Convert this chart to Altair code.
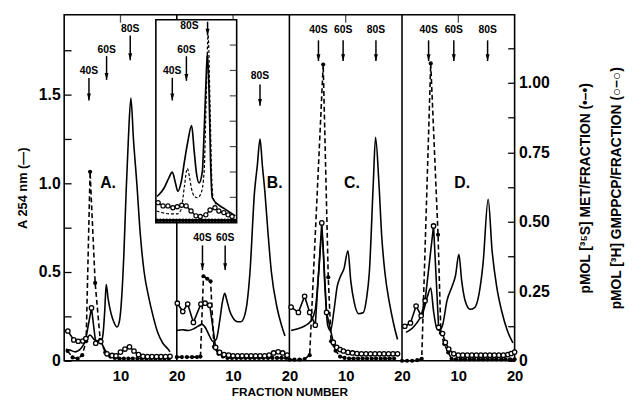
import altair as alt
import pandas as pd

FONT = "Liberation Sans"

# ---------------- data ----------------
# A254 (solid line), fraction number within each panel
A_SOLID_F = [0.3, 1.0, 2.0, 3.0, 3.8, 4.6, 5.3, 6.0, 6.5, 6.9, 7.2, 7.47, 7.8, 8.3, 8.8, 9.4, 9.8, 10.2, 10.6, 11.0, 11.4, 11.85, 12.3, 12.9, 13.5, 14.2, 15.0, 15.8, 16.6, 17.5, 18.4, 18.8]
A_SOLID_V = [0.065, 0.06, 0.05, 0.07, 0.11, 0.145, 0.12, 0.11, 0.10, 0.15, 0.28, 0.43, 0.35, 0.27, 0.22, 0.19, 0.22, 0.35, 0.6, 0.95, 1.25, 1.48, 1.25, 1.0, 0.72, 0.5, 0.36, 0.25, 0.16, 0.1, 0.067, 0.05]
B_SOLID_F = [0.0, 1.0, 2.0, 3.0, 3.8, 4.5, 5.2, 5.8, 6.4, 7.0, 7.6, 8.1, 8.5, 8.9, 9.4, 10.0, 10.8, 11.4, 12.0, 12.5, 13.0, 13.8, 14.3, 14.78, 15.2, 15.65, 16.2, 16.8, 17.8, 18.6, 19.2]
B_SOLID_V = [0.17, 0.175, 0.17, 0.18, 0.195, 0.205, 0.18, 0.14, 0.11, 0.12, 0.22, 0.33, 0.38, 0.34, 0.28, 0.24, 0.22, 0.22, 0.25, 0.33, 0.5, 0.95, 1.1, 1.25, 1.1, 0.95, 0.72, 0.5, 0.3, 0.2, 0.14]
C_SOLID_F = [0.3, 1.5, 2.7, 3.8, 4.6, 5.2, 5.8, 6.3, 6.8, 7.3, 7.9, 8.5, 9.0, 9.7, 10.4, 10.9, 11.5, 12.3, 13.1, 13.7, 14.2, 14.9, 15.3, 15.9, 16.4, 16.95, 17.8, 18.5, 19.2]
C_SOLID_V = [0.17, 0.18, 0.196, 0.224, 0.29, 0.5, 0.72, 0.42, 0.2, 0.17, 0.28, 0.42, 0.47, 0.52, 0.62, 0.45, 0.33, 0.265, 0.27, 0.35, 0.5, 1.0, 1.26, 1.0, 0.7, 0.5, 0.32, 0.21, 0.12]
D_SOLID_F = [0.7, 1.5, 2.2, 3.0, 3.7, 4.5, 5.1, 5.6, 6.1, 6.6, 7.2, 8.0, 8.9, 9.5, 10.1, 10.6, 11.2, 12.1, 12.9, 13.7, 14.4, 15.3, 16.0, 16.8, 17.7, 18.7, 19.7]
D_SOLID_V = [0.16, 0.175, 0.196, 0.23, 0.27, 0.36, 0.41, 0.28, 0.19, 0.17, 0.2, 0.34, 0.42, 0.48, 0.6, 0.45, 0.34, 0.29, 0.3, 0.38, 0.55, 0.91, 0.62, 0.42, 0.28, 0.17, 0.10]

# [3H]GMPPCP pmol/fraction (open circles)
A_OPEN_F = [0.65, 1.7, 2.5, 3.3, 3.85, 4.85, 5.6, 6.5, 7.6, 8.5, 9.2, 10.0, 10.8, 11.6, 12.4, 13.2, 14.0, 14.8, 15.6, 16.4, 17.2, 18.0, 18.8]
A_OPEN_V = [0.107, 0.075, 0.07, 0.071, 0.08, 0.19, 0.063, 0.069, 0.025, 0.019, 0.018, 0.031, 0.042, 0.05, 0.035, 0.022, 0.016, 0.015, 0.015, 0.015, 0.015, 0.015, 0.016]
B_OPEN_F = [0.1, 1.06, 1.94, 2.95, 4.28, 5.03, 5.85, 6.9, 7.6, 8.4, 9.2, 10.0, 10.8, 11.6, 12.4, 13.2, 14.0, 14.8, 15.6, 16.4, 17.2, 18.0, 18.8, 19.6]
B_OPEN_V = [0.207, 0.177, 0.204, 0.138, 0.204, 0.207, 0.2, 0.048, 0.03, 0.022, 0.02, 0.018, 0.018, 0.018, 0.018, 0.018, 0.018, 0.018, 0.018, 0.02, 0.028, 0.032, 0.028, 0.02]
C_OPEN_F = [0.3, 1.6, 2.7, 3.6, 4.6, 5.75, 6.6, 7.8, 8.4, 9.0, 9.6, 10.4, 11.2, 12.0, 12.8, 13.6, 14.4, 15.2, 16.0, 16.8, 17.6, 18.4, 19.2]
C_OPEN_V = [0.193, 0.174, 0.232, 0.174, 0.128, 0.496, 0.174, 0.066, 0.048, 0.04, 0.035, 0.03, 0.028, 0.026, 0.025, 0.025, 0.025, 0.025, 0.025, 0.025, 0.025, 0.025, 0.025]
D_OPEN_F = [0.5, 1.5, 2.5, 3.4, 4.1, 5.6, 6.5, 7.2, 7.7, 8.3, 9.2, 10.0, 10.8, 11.6, 12.4, 13.2, 14.0, 14.8, 15.6, 16.4, 17.2, 18.0, 18.8, 19.4, 20.0]
D_OPEN_V = [0.124, 0.136, 0.197, 0.162, 0.216, 0.485, 0.12, 0.098, 0.066, 0.042, 0.025, 0.02, 0.02, 0.02, 0.02, 0.02, 0.02, 0.02, 0.02, 0.02, 0.02, 0.02, 0.022, 0.026, 0.031]

# [35S]Met pmol/fraction (closed circles, dashed)
A_MET_F = [0.6, 1.5, 2.4, 3.2, 3.9, 4.6, 5.5, 6.4, 7.3, 8.2, 9.0, 9.8, 10.6, 11.4, 12.2, 13.0, 13.8, 14.6, 15.4, 16.2, 17.0, 17.8, 18.6]
A_MET_V = [0.035, 0.012, 0.008, 0.02, 0.07, 0.68, 0.28, 0.075, 0.03, 0.015, 0.01, 0.008, 0.008, 0.008, 0.008, 0.008, 0.008, 0.008, 0.008, 0.008, 0.008, 0.008, 0.008]
B_MET_F = [0.0, 0.9, 1.8, 2.7, 3.6, 4.2, 4.74, 5.4, 6.0, 6.6, 7.4, 8.2, 9.0, 9.8, 10.6, 11.4, 12.2, 13.0, 13.8, 14.6, 15.4, 16.2, 17.0, 17.8, 18.6, 19.4]
B_MET_V = [0.013, 0.013, 0.013, 0.013, 0.013, 0.015, 0.304, 0.295, 0.286, 0.05, 0.025, 0.015, 0.01, 0.01, 0.01, 0.01, 0.01, 0.01, 0.01, 0.01, 0.01, 0.01, 0.01, 0.01, 0.01, 0.01]
C_MET_F = [0.0, 0.9, 1.8, 2.7, 3.6, 6.0, 6.9, 7.4, 8.2, 9.0, 9.8, 10.6, 11.4, 12.2, 13.0, 13.8, 14.6, 15.4, 16.2, 17.0, 17.8, 18.6]
C_MET_V = [0.004, 0.004, 0.004, 0.006, 0.02, 1.066, 0.3, 0.07, 0.036, 0.015, 0.01, 0.008, 0.008, 0.008, 0.008, 0.008, 0.008, 0.008, 0.008, 0.008, 0.008, 0.008]
D_MET_F = [0.0, 0.9, 1.8, 2.7, 3.5, 5.1, 6.4, 6.9, 7.5, 8.2, 8.8, 9.6, 10.4, 11.2, 12.0, 12.8, 13.6, 14.4, 15.2, 16.0, 16.8, 17.6, 18.4, 19.2, 20.0]
D_MET_V = [0.0, 0.0, 0.0, 0.002, 0.007, 1.07, 0.453, 0.1, 0.06, 0.03, 0.007, 0.005, 0.005, 0.005, 0.005, 0.005, 0.005, 0.005, 0.005, 0.005, 0.005, 0.005, 0.005, 0.005, 0.005]

# sedimentation markers (panel position = 20*panel + fraction), in A254 units
ARROW_LABELS = ["40S", "60S", "80S", "40S", "60S", "80S", "40S", "60S", "80S", "40S", "60S", "80S"]
ARROW_POS = [4.4, 7.53, 11.73, 24.56, 28.59, 34.78, 45.16, 49.54, 55.37, 64.72, 69.2, 75.2]
ARROW_LABEL_Y = [1.633, 1.75, 1.867, 0.689, 0.689, 1.607, 1.863, 1.863, 1.863, 1.863, 1.863, 1.863]
ARROW_TOP = [1.594, 1.717, 1.833, 0.65, 0.65, 1.557, 1.806, 1.806, 1.806, 1.806, 1.806, 1.806]
ARROW_TIP = [1.467, 1.583, 1.694, 0.511, 0.511, 1.437, 1.689, 1.689, 1.689, 1.689, 1.689, 1.689]

LETTERS = ["A.", "B.", "C.", "D."]
LETTER_POS = [7.8, 37.4, 51.1, 70.7]
LETTER_Y = [1.0, 1.0, 1.0, 1.0]

BOUNDARIES = [20, 40, 60]
TOP_TICKS = [10, 30, 50, 70]
X_TICKS = [10, 20, 30, 40, 50, 60, 70, 80]
YA_TICKS = [0, 0.25, 0.5, 0.75, 1.0, 1.25, 1.5, 1.75]
YP_TICKS = [0, 0.125, 0.25, 0.375, 0.5, 0.625, 0.75, 0.875, 1.0, 1.125]

# inset (own, unlabelled scales: fraction 0-20, relative absorbance 0-1)
IN_SOLID_F = [0.3, 0.8, 2.0, 3.2, 4.07, 4.8, 5.44, 6.3, 7.07, 7.9, 8.85, 9.5, 10.0, 10.7, 11.5, 11.95, 12.4, 12.76, 13.17, 13.54, 13.98, 15.6, 17.24, 19.68]
IN_SOLID_V = [0.13, 0.139, 0.17, 0.22, 0.249, 0.2, 0.155, 0.204, 0.301, 0.398, 0.479, 0.35, 0.252, 0.196, 0.252, 0.447, 0.689, 0.835, 0.64, 0.301, 0.123, 0.087, 0.066, 0.034]
IN_DASH_F = [0.17, 1.7, 3.4, 5.4, 6.3, 7.07, 7.8, 8.3, 8.8, 9.5, 10.3, 11.2, 11.95, 12.44, 12.93, 13.4, 13.78, 14.1, 15.0]
IN_DASH_V = [0.058, 0.049, 0.044, 0.044, 0.068, 0.18, 0.268, 0.228, 0.17, 0.131, 0.123, 0.146, 0.252, 0.592, 0.924, 0.592, 0.252, 0.131, 0.09]
IN_OPEN_F = [0.56, 1.78, 3.0, 4.22, 5.3, 6.41, 7.49, 8.7, 9.93, 10.98, 12.37, 13.41, 14.63, 15.6, 16.83, 17.88, 18.85]
IN_OPEN_V = [0.099, 0.083, 0.083, 0.074, 0.079, 0.086, 0.083, 0.058, 0.034, 0.031, 0.039, 0.063, 0.074, 0.058, 0.05, 0.039, 0.031]
IN_MET_F = [0.3, 1.1, 1.9, 2.7, 3.5, 4.3, 5.1, 5.9, 6.7, 7.5, 8.3, 9.1, 9.9, 10.7, 11.5, 12.3, 13.1, 13.9, 14.7, 15.5, 16.3, 17.1, 17.9, 18.7, 19.5]
IN_MET_V = [0.012, 0.012, 0.012, 0.012, 0.012, 0.012, 0.012, 0.012, 0.012, 0.012, 0.012, 0.012, 0.012, 0.012, 0.012, 0.012, 0.012, 0.012, 0.012, 0.012, 0.012, 0.012, 0.012, 0.012, 0.012]
IN_ARROW_LABELS = ["40S", "60S", "80S"]
IN_LABEL_X = [4.07, 7.56, 8.29]
IN_ARROW_X = [4.07, 7.56, 12.8]
IN_LABEL_Y = [0.746, 0.851, 0.968]
IN_ARROW_TOP = [0.714, 0.82, 0.99]
IN_ARROW_TIP = [0.602, 0.699, 0.922]
IN_TICKS = [0.125, 0.25, 0.375, 0.5, 0.625, 0.75, 0.875]
IN_EXTENT_X = [0, 20]
IN_EXTENT_Y = [0, 1]


def series(panel, fs, vs):
    return pd.DataFrame({"panel": panel, "pos": [20 * panel + f for f in fs], "val": vs})


solid = pd.concat([series(0, A_SOLID_F, A_SOLID_V), series(1, B_SOLID_F, B_SOLID_V),
                   series(2, C_SOLID_F, C_SOLID_V), series(3, D_SOLID_F, D_SOLID_V)])
gmp = pd.concat([series(0, A_OPEN_F, A_OPEN_V), series(1, B_OPEN_F, B_OPEN_V),
                 series(2, C_OPEN_F, C_OPEN_V), series(3, D_OPEN_F, D_OPEN_V)])
met = pd.concat([series(0, A_MET_F, A_MET_V), series(1, B_MET_F, B_MET_V),
                 series(2, C_MET_F, C_MET_V), series(3, D_MET_F, D_MET_V)])
arrows = pd.DataFrame({"pos": ARROW_POS, "label": ARROW_LABELS, "ly": ARROW_LABEL_Y,
                       "top": ARROW_TOP, "tip": ARROW_TIP})
letters = pd.DataFrame({"pos": LETTER_POS, "val": LETTER_Y, "label": LETTERS})
bounds = pd.DataFrame({"pos": BOUNDARIES})
topticks = pd.DataFrame({"pos": TOP_TICKS})

in_solid = pd.DataFrame({"f": IN_SOLID_F, "v": IN_SOLID_V})
in_dash = pd.DataFrame({"f": IN_DASH_F, "v": IN_DASH_V})
in_open = pd.DataFrame({"f": IN_OPEN_F, "v": IN_OPEN_V})
in_met = pd.DataFrame({"f": IN_MET_F, "v": IN_MET_V})
in_arrows = pd.DataFrame({"lx": IN_LABEL_X, "ax": IN_ARROW_X, "label": IN_ARROW_LABELS,
                          "ly": IN_LABEL_Y, "top": IN_ARROW_TOP, "tip": IN_ARROW_TIP})
in_frame = pd.DataFrame({"x0": [IN_EXTENT_X[0]], "x1": [IN_EXTENT_X[1]],
                         "y0": [IN_EXTENT_Y[0]], "y1": [IN_EXTENT_Y[1]]})
in_ticks = pd.DataFrame({"v": IN_TICKS})

# ---------------- scales / axes ----------------
xs = alt.Scale(domain=[0, 80], nice=False, zero=False)
yA = alt.Scale(domain=[0, 1.95], nice=False, zero=False)
yP = alt.Scale(domain=[0, 1.245], nice=False, zero=False)
ixs = alt.Scale(domain=[0, 20], range=[93, 175], nice=False, zero=False)
iys = alt.Scale(domain=[0, 1], range=[211, 5], nice=False, zero=False)

x_axis = alt.Axis(values=X_TICKS, labelExpr="datum.value % 20 == 0 ? '20' : '10'",
                  ticks=False, domain=False, grid=False, labelOverlap=False, labelFlush=False,
                  labelFont=FONT, labelFontSize=15, labelFontWeight="bold", labelPadding=8,
                  titleFont=FONT, titleFontSize=12, titleFontWeight="bold", titlePadding=3)
yA_axis = alt.Axis(values=YA_TICKS,
                   labelExpr="datum.value == 0 ? '0' : ((datum.value * 2) % 1 == 0 ? format(datum.value, '.1f') : '')",
                   offset=-7, tickSize=7, tickWidth=1.3, domain=False, grid=False, labelOverlap=False,
                   labelFlush=False,
                   labelFont=FONT, labelFontSize=16, labelFontWeight="bold", labelPadding=4,
                   titleFont=FONT, titleFontSize=13, titleFontWeight="bold", titlePadding=9)
yP_axis = alt.Axis(orient="right", values=YP_TICKS,
                   labelExpr="datum.value == 0 ? '0' : ((datum.value * 4) % 1 == 0 ? format(datum.value, '.2f') : '')",
                   offset=-7, tickSize=7, tickWidth=1.3, domain=False, grid=False, labelOverlap=False,
                   labelFlush=False,
                   labelFont=FONT, labelFontSize=16, labelFontWeight="bold", labelPadding=4,
                   titleFont=FONT, titleFontSize=14, titleFontWeight="bold", titlePadding=13,
                   titleAngle=270, titleLineHeight=31)

X_TITLE = "FRACTION NUMBER"
YA_TITLE = "A 254 nm (—)"
YP_TITLE = ["pMOL [³⁵S] MET/FRACTION (•–•)", "pMOL [³H] GMPPCP/FRACTION (○–○)"]

# every layer has its own (identical) scale; only designated layers draw axes
XM = alt.X("pos:Q", scale=xs, axis=None)
XM_AX = alt.X("pos:Q", scale=xs, axis=x_axis, title=X_TITLE)


def YA_(field):
    return alt.Y(f"{field}:Q", scale=yA, axis=None)


def YP_(field):
    return alt.Y(f"{field}:Q", scale=yP, axis=None)


def IX(field):
    return alt.X(f"{field}:Q", scale=ixs, axis=None)


def IY(field):
    return alt.Y(f"{field}:Q", scale=iys, axis=None)


ARROW_HEAD = "M-1,-3.5L1,-3.5L0,0Z"
LW = 1.6

# ---------------- A254 marks ----------------
solid_line = alt.Chart(solid).mark_line(color="black", strokeWidth=LW, interpolate="monotone").encode(
    x=XM_AX, y=alt.Y("val:Q", scale=yA, axis=yA_axis, title=YA_TITLE), detail="panel:N")
bound_rules = alt.Chart(bounds).mark_rule(color="black", strokeWidth=1.6).encode(
    x=XM, y=alt.YDatum(0, scale=yA, axis=None), y2=alt.Y2Datum(1.95))
top_tick = alt.Chart(topticks).mark_tick(color="black", orient="vertical", size=8, thickness=1.3,
                                         yOffset=4).encode(x=XM, y=alt.YDatum(1.95, scale=yA, axis=None))
arrow_shaft = alt.Chart(arrows).mark_rule(color="black", strokeWidth=1.5).encode(
    x=XM, y=YA_("top"), y2="tip:Q")
arrow_head = alt.Chart(arrows).mark_point(shape=ARROW_HEAD, filled=True, size=16, color="black",
                                          opacity=1).encode(x=XM, y=YA_("tip"))
arrow_text = alt.Chart(arrows).mark_text(font=FONT, fontSize=10.5, fontWeight="bold", color="black",
                                         align="center", baseline="middle").encode(
    x=XM, y=YA_("ly"), text="label:N")
letter_text = alt.Chart(letters).mark_text(font=FONT, fontSize=16, fontWeight="bold", color="black",
                                           align="center", baseline="middle").encode(
    x=XM, y=YA_("val"), text="label:N")

# ---------------- pmol marks ----------------
met_line = alt.Chart(met).mark_line(color="black", strokeWidth=LW, strokeDash=[5, 3]).encode(
    x=XM, y=alt.Y("val:Q", scale=yP, axis=yP_axis, title=YP_TITLE), detail="panel:N")
gmp_line = alt.Chart(gmp).mark_line(color="black", strokeWidth=LW).encode(x=XM, y=YP_("val"), detail="panel:N")
met_pts = alt.Chart(met).mark_circle(color="black", size=18, opacity=1).encode(x=XM, y=YP_("val"))
gmp_pts = alt.Chart(gmp).mark_circle(fill="white", stroke="black", strokeWidth=1.3, size=20,
                                     opacity=1).encode(x=XM, y=YP_("val"))

# ---------------- inset marks ----------------
in_box = alt.Chart(in_frame).mark_rect(fill="white", stroke="black", strokeWidth=1.6).encode(
    x=IX("x0"), x2="x1:Q", y=IY("y0"), y2="y1:Q")
in_tick = alt.Chart(in_ticks).mark_tick(color="black", orient="horizontal", size=7, thickness=1.2,
                                        xOffset=-3.5).encode(x=alt.XDatum(20, scale=ixs, axis=None), y=IY("v"))
in_solid_line = alt.Chart(in_solid).mark_line(color="black", strokeWidth=1.7, interpolate="monotone").encode(
    x=IX("f"), y=IY("v"))
in_dash_line = alt.Chart(in_dash).mark_line(color="black", strokeWidth=1.2, strokeDash=[3, 2],
                                            interpolate="monotone").encode(x=IX("f"), y=IY("v"))
in_open_line = alt.Chart(in_open).mark_line(color="black", strokeWidth=1.3).encode(x=IX("f"), y=IY("v"))
in_met_line = alt.Chart(in_met).mark_line(color="black", strokeWidth=2.2).encode(x=IX("f"), y=IY("v"))
in_met_pts = alt.Chart(in_met).mark_circle(color="black", size=14, opacity=1).encode(x=IX("f"), y=IY("v"))
in_open_pts = alt.Chart(in_open).mark_circle(fill="white", stroke="black", strokeWidth=1.2, size=18,
                                             opacity=1).encode(x=IX("f"), y=IY("v"))
in_shaft = alt.Chart(in_arrows).mark_rule(color="black", strokeWidth=1.5).encode(
    x=IX("ax"), y=IY("top"), y2="tip:Q")
in_head = alt.Chart(in_arrows).mark_point(shape=ARROW_HEAD, filled=True, size=16, color="black",
                                          opacity=1).encode(x=IX("ax"), y=IY("tip"))
in_text = alt.Chart(in_arrows).mark_text(font=FONT, fontSize=10.5, fontWeight="bold", color="black",
                                         align="center", baseline="middle").encode(
    x=IX("lx"), y=IY("ly"), text="label:N")

chart = (
    alt.layer(solid_line, bound_rules, top_tick, arrow_shaft, arrow_head, arrow_text, letter_text,
              met_line, gmp_line, met_pts, gmp_pts,
              in_box, in_tick, in_met_line, in_dash_line, in_solid_line, in_open_line,
              in_met_pts, in_open_pts, in_shaft, in_head, in_text)
    .resolve_scale(x="independent", y="independent")
    .properties(width=457, height=351, padding={"left": 8, "top": 3, "right": 2, "bottom": 2},
                background="white")
    .configure_view(stroke="black", strokeWidth=1.6)
    .configure_axis(labelColor="black", titleColor="black", tickColor="black")
)

chart.save("out.html", embed_options={"renderer": "svg", "actions": False})
